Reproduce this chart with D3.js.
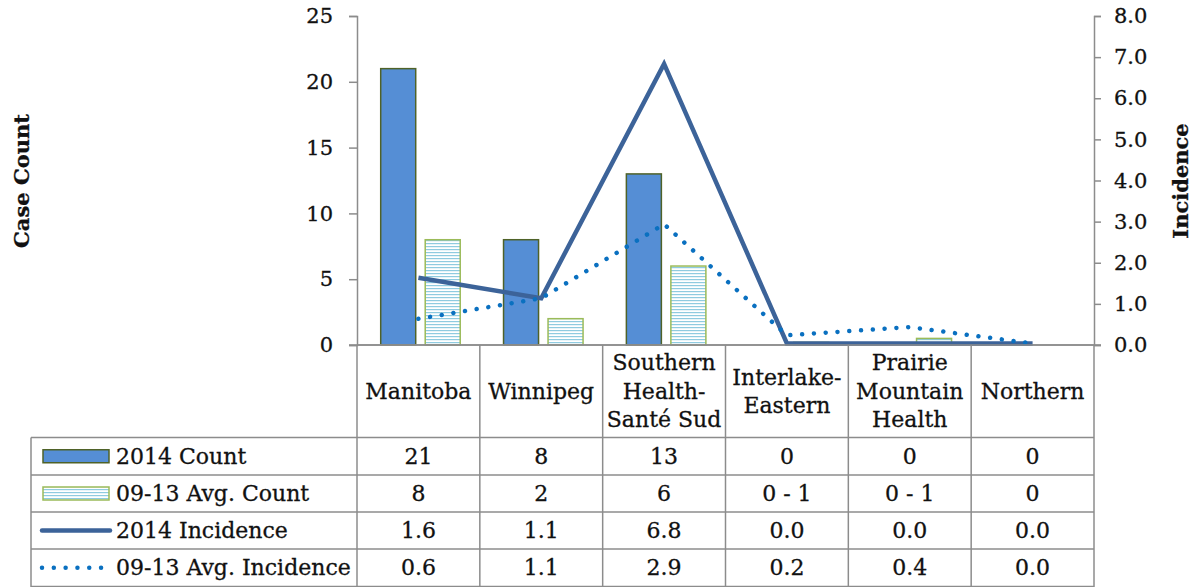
<!DOCTYPE html>
<html><head><meta charset="utf-8">
<script src="https://cdn.jsdelivr.net/npm/d3@7"></script>
<style>
html,body{margin:0;padding:0;background:#fff;}
svg{display:block;font-family:"DejaVu Serif",serif;}
</style></head>
<body><svg id="c" width="1194" height="587"></svg>
<script>
// ---- data ----
const categories = ["Manitoba", "Winnipeg", "Southern Health-Santé Sud", "Interlake-Eastern", "Prairie Mountain Health", "Northern"];
const headerLines = [["Manitoba"], ["Winnipeg"], ["Southern", "Health-", "Santé Sud"], ["Interlake-", "Eastern"], ["Prairie", "Mountain", "Health"], ["Northern"]];
const count2014 = [21, 8, 13, 0, 0, 0];
const avgCount = [8, 2, 6, 0.2, 0.5, 0];
const avgCountLabels = ["8", "2", "6", "0 - 1", "0 - 1", "0"];
const incidence2014 = [1.6, 1.1, 6.8, 0.0, 0.0, 0.0];
const avgIncidence = [0.6, 1.1, 2.9, 0.2, 0.4, 0.0];
const leftTicks = [0, 5, 10, 15, 20, 25];
const rightTicks = [0, 1, 2, 3, 4, 5, 6, 7, 8];
const seriesNames = ["2014 Count", "09-13 Avg. Count", "2014 Incidence", "09-13 Avg. Incidence"];

// ---- layout ----
const svg = d3.select("#c");
const X0 = 357, X1 = 1094, YTOP = 16, YBOT = 345;
const tableLeft = 31;
const rowLines = [345, 437.5, 475, 512, 549, 586.5];
const gridColor = "#8c8c8c";
const textColor = "#111111";

const x = d3.scaleBand().domain(categories).range([X0, X1]).padding(0);
const yL = d3.scaleLinear().domain([0, 25]).range([YBOT, YTOP]);
const yR = d3.scaleLinear().domain([0, 8]).range([YBOT, YTOP]);
const bw = x.bandwidth();
const barW = bw * 0.285, off1 = bw * 0.193, off2 = off1 + barW + 9.5;

function txt(sel) {
  return sel.attr("fill", textColor).attr("stroke", textColor).attr("stroke-width", 0.3);
}

// pattern
const defs = svg.append("defs");
const pat = defs.append("pattern").attr("id", "hstripe").attr("patternUnits", "userSpaceOnUse")
  .attr("width", 6).attr("height", 3);
pat.append("rect").attr("width", 6).attr("height", 3).attr("fill", "#ffffff");
pat.append("rect").attr("y", 0).attr("width", 6).attr("height", 1.2).attr("fill", "#8fcbe0");

// bars
const g = svg.append("g");
g.selectAll("rect.c14").data(count2014).join("rect").attr("class", "c14")
  .attr("x", (d, i) => x(categories[i]) + off1).attr("width", barW)
  .attr("y", d => yL(d)).attr("height", d => YBOT - yL(d))
  .attr("fill", "#558ed5").attr("stroke", "#4f6228").attr("stroke-width", 1.5);
g.selectAll("rect.cav").data(avgCount).join("rect").attr("class", "cav")
  .attr("x", (d, i) => x(categories[i]) + off2).attr("width", barW)
  .attr("y", d => yL(d)).attr("height", d => YBOT - yL(d))
  .attr("fill", "url(#hstripe)").attr("stroke", "#9bbb59").attr("stroke-width", 1.5);

// axes
const axL = d3.axisLeft(yL).tickValues(leftTicks).tickSize(8).tickFormat(d3.format("d"));
const gl = svg.append("g").attr("transform", `translate(${X0},0)`).call(axL);
const axR = d3.axisRight(yR).tickValues(rightTicks).tickSize(7).tickFormat(d3.format(".1f"));
const gr = svg.append("g").attr("transform", `translate(${X1},0)`).call(axR);
[gl, gr].forEach(a => {
  a.select(".domain").attr("stroke", gridColor).attr("stroke-width", 1.5);
  a.selectAll(".tick line").attr("stroke", gridColor).attr("stroke-width", 1.5);
  txt(a.selectAll(".tick text")).attr("font-size", 21).attr("font-family", "DejaVu Serif");
});
gl.selectAll(".tick text").attr("x", -24);
gr.selectAll(".tick text").attr("x", 20);
// baseline
svg.append("line").attr("x1", X0 - 8).attr("x2", X1 + 7).attr("y1", YBOT).attr("y2", YBOT)
  .attr("stroke", gridColor).attr("stroke-width", 1.5);

// lines
const cx = i => x(categories[i]) + bw / 2;
const line = d3.line().x((d, i) => cx(i)).y(d => yR(d));
svg.append("path").datum(incidence2014).attr("d", line).attr("fill", "none")
  .attr("stroke", "#3c6399").attr("stroke-width", 4.5).attr("stroke-linejoin", "miter")
  .attr("transform", "translate(0,-1.5)");
svg.append("path").datum(avgIncidence).attr("d", line).attr("fill", "none")
  .attr("stroke", "#0a70c0").attr("stroke-width", 4.5).attr("stroke-linecap", "round")
  .attr("stroke-dasharray", "0.01 11.8").attr("transform", "translate(0,-1.5)");

// axis titles
txt(svg.append("text").attr("transform", "translate(29,181) rotate(-90)").attr("text-anchor", "middle")
  .attr("font-weight", "bold").attr("font-size", 21)).text("Case Count");
txt(svg.append("text").attr("transform", "translate(1188,181) rotate(-90)").attr("text-anchor", "middle")
  .attr("font-weight", "bold").attr("font-size", 21)).text("Incidence");

// table grid
const tg = svg.append("g").attr("stroke", gridColor).attr("stroke-width", 1.5).attr("fill", "none");
rowLines.forEach((yy, i) => {
  tg.append("line").attr("x1", i <= 0 ? X0 : tableLeft).attr("x2", X1).attr("y1", yy).attr("y2", yy);
});
const colX = categories.map(c => x(c)).concat([X1]);
colX.forEach(xx => tg.append("line").attr("x1", xx).attr("x2", xx).attr("y1", YBOT).attr("y2", 587));
tg.append("line").attr("x1", tableLeft).attr("x2", tableLeft).attr("y1", rowLines[1]).attr("y2", 587);

// header text
const fs = 22;
headerLines.forEach((lines, i) => {
  const cy = (rowLines[0] + rowLines[1]) / 2;
  const lh = 28.5;
  const t = txt(svg.append("text").attr("text-anchor", "middle").attr("font-size", fs));
  lines.forEach((ln, k) => {
    t.append("tspan").attr("x", cx(i)).attr("y", cy + (k - (lines.length - 1) / 2) * lh + 7.5).text(ln);
  });
});

// data rows
const rows = [count2014.map(String), avgCountLabels, incidence2014.map(d => d.toFixed(1)), avgIncidence.map(d => d.toFixed(1))];
rows.forEach((r, ri) => {
  const cy = (rowLines[ri + 1] + rowLines[ri + 2]) / 2;
  r.forEach((v, i) => {
    txt(svg.append("text").attr("x", cx(i)).attr("y", cy + 7.5).attr("text-anchor", "middle")
      .attr("font-size", fs)).text(v);
  });
  txt(svg.append("text").attr("x", 116).attr("y", cy + 7.5).attr("font-size", fs)).text(seriesNames[ri]);
});

// legend keys
const ky = ri => (rowLines[ri + 1] + rowLines[ri + 2]) / 2;
svg.append("rect").attr("x", 43).attr("y", ky(0) - 6.5).attr("width", 66).attr("height", 13)
  .attr("fill", "#558ed5").attr("stroke", "#4f6228").attr("stroke-width", 1.5);
svg.append("rect").attr("x", 43).attr("y", ky(1) - 6.5).attr("width", 66).attr("height", 13)
  .attr("fill", "url(#hstripe)").attr("stroke", "#9bbb59").attr("stroke-width", 1.5);
svg.append("line").attr("x1", 42).attr("x2", 110).attr("y1", ky(2)).attr("y2", ky(2))
  .attr("stroke", "#3c6399").attr("stroke-width", 4.5).attr("stroke-linecap", "round");
svg.append("line").attr("x1", 42).attr("x2", 108).attr("y1", ky(3)).attr("y2", ky(3))
  .attr("stroke", "#0a70c0").attr("stroke-width", 4.5).attr("stroke-linecap", "round").attr("stroke-dasharray", "0.01 11.8");
</script></body></html>
